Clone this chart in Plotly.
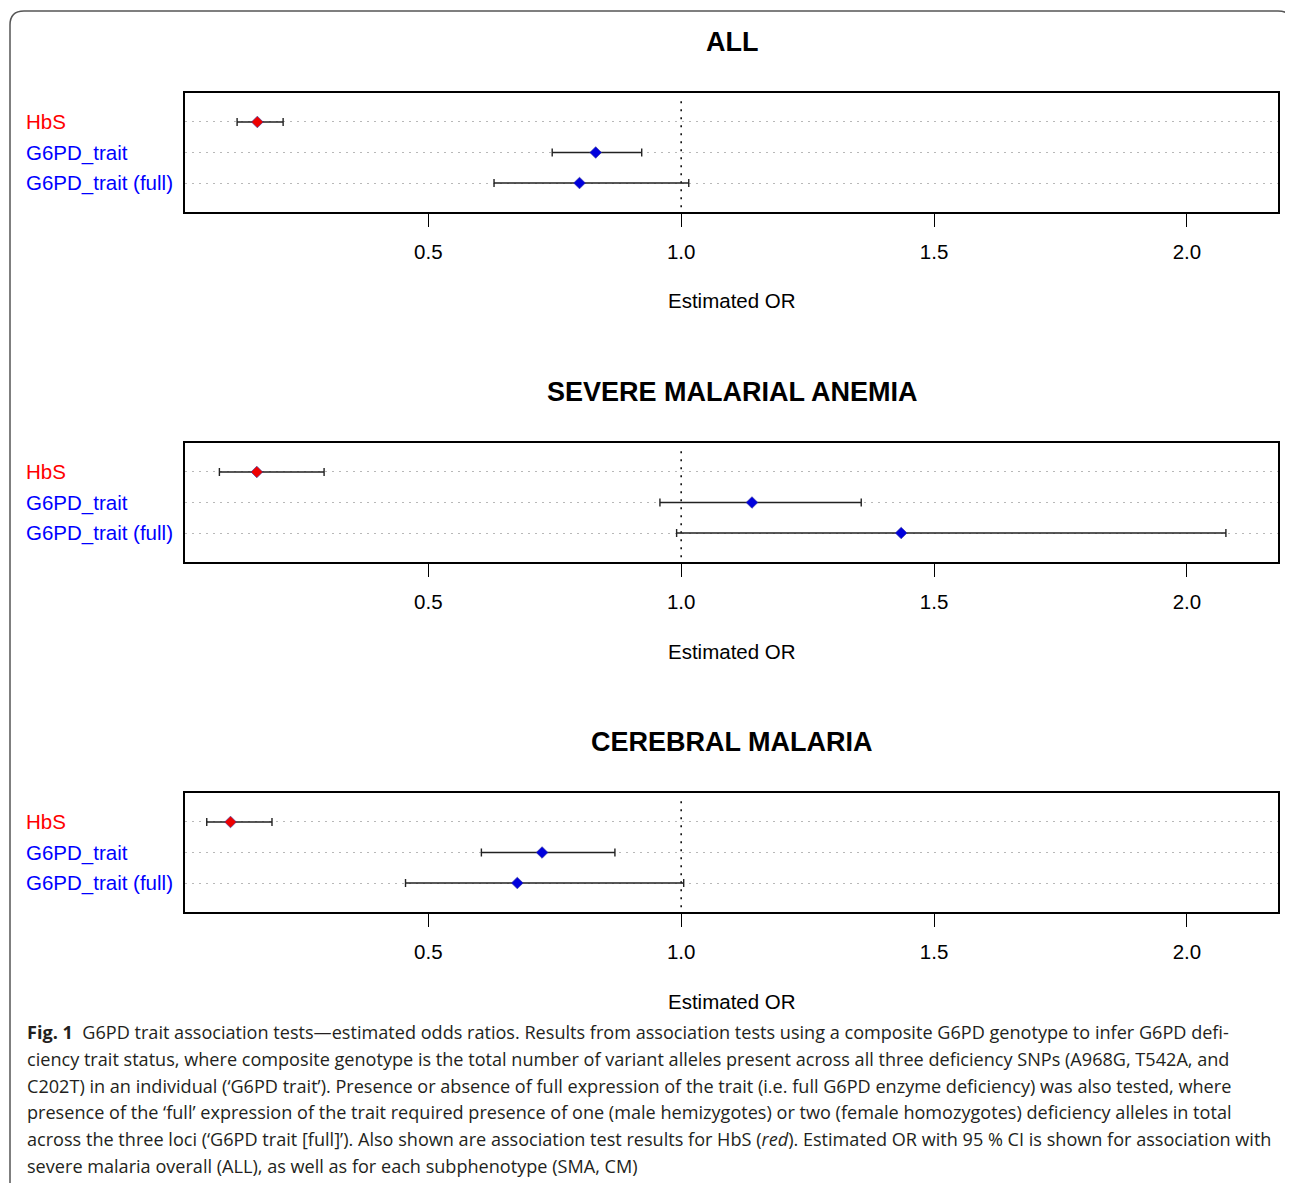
import plotly.graph_objects as go

# ---------------- data ----------------
categories = ["HbS", "G6PD_trait", "G6PD_trait (full)"]
panel_titles = ["ALL", "SEVERE MALARIAL ANEMIA", "CEREBRAL MALARIA"]

or_all = [0.162, 0.831, 0.799]
lo_all = [0.122, 0.745, 0.630]
hi_all = [0.213, 0.922, 1.015]

or_sma = [0.161, 1.140, 1.435]
lo_sma = [0.087, 0.958, 0.991]
hi_sma = [0.294, 1.356, 2.077]

or_cm = [0.109, 0.725, 0.676]
lo_cm = [0.062, 0.605, 0.455]
hi_cm = [0.191, 0.869, 1.005]

tick_vals = [0.5, 1.0, 1.5, 2.0]
tick_text = ["0.5", "1.0", "1.5", "2.0"]
label_colors = ["#ff0000", "#0000ff", "#0000ff"]
marker_colors = ["#ee0000", "#0000dd", "#0000dd"]

caption_lines = [
    "<b>Fig. 1</b>  G6PD trait association tests—estimated odds ratios. Results from association tests using a composite G6PD genotype to infer G6PD defi-",
    "ciency trait status, where composite genotype is the total number of variant alleles present across all three deficiency SNPs (A968G, T542A, and",
    "C202T) in an individual (‘G6PD trait’). Presence or absence of full expression of the trait (i.e. full G6PD enzyme deficiency) was also tested, where",
    "presence of the ‘full’ expression of the trait required presence of one (male hemizygotes) or two (female homozygotes) deficiency alleles in total",
    "across the three loci (‘G6PD trait [full]’). Also shown are association test results for HbS (<i>red</i>). Estimated OR with 95 % CI is shown for association with",
    "severe malaria overall (ALL), as well as for each subphenotype (SMA, CM)",
]

# ---------------- layout helpers ----------------
# the page body has an 8px margin, so the figure is placed 8px in from the window corner
OFF = 8
W, H = 1293 - OFF, 1183 - OFF


def px(x):
    return (x - OFF) / W


def py(y):
    return 1 - (y - OFF) / H


FONT = "Liberation Sans, Arial, Helvetica, sans-serif"
rows = [3, 2, 1]
panels = [(or_all, lo_all, hi_all), (or_sma, lo_sma, hi_sma), (or_cm, lo_cm, hi_cm)]

fig = go.Figure()
annotations = []
shapes = []

for i, (est, lo, hi) in enumerate(panels):
    off = 350 * i
    top, bot = 93 + off, 212 + off
    xa = "x" if i == 0 else f"x{i + 1}"
    ya = "y" if i == 0 else f"y{i + 1}"
    xkey = "xaxis" if i == 0 else f"xaxis{i + 1}"
    ykey = "yaxis" if i == 0 else f"yaxis{i + 1}"

    fig.add_trace(go.Scatter(
        x=est, y=rows, mode="markers", xaxis=xa, yaxis=ya,
        marker=dict(symbol="diamond", size=9, color=marker_colors,
                    line=dict(width=0.6, color="#333399")),
        error_x=dict(type="data", symmetric=False,
                     array=[h - e for h, e in zip(hi, est)],
                     arrayminus=[e - l for e, l in zip(est, lo)],
                     color="#222222", thickness=1.4, width=4),
        showlegend=False, hoverinfo="skip",
    ))

    fig.update_layout(**{
        xkey: dict(domain=[px(185), px(1278)], range=[0.019, 2.18],
                   anchor=ya, tickvals=tick_vals, ticktext=tick_text,
                   ticks="outside", ticklen=13, tickwidth=1.4, tickcolor="black",
                   ticklabelstandoff=8,
                   tickfont=dict(family=FONT, size=20.5, color="black"),
                   showline=True, mirror=True, linecolor="black", linewidth=1.5,
                   showgrid=False, zeroline=False, fixedrange=True),
        ykey: dict(domain=[py(bot), py(top)], range=[0.05, 3.95],
                   anchor=xa, tickvals=rows, showticklabels=False, ticks="",
                   showgrid=True, gridcolor="#b8b8b8", griddash="2px,5px", gridwidth=1,
                   showline=True, mirror=True, linecolor="black", linewidth=1.5,
                   zeroline=False, fixedrange=True),
    })

    # reference line at OR = 1
    shapes.append(dict(type="line", xref=xa, yref=f"{ya} domain",
                       x0=1.0, x1=1.0, y0=0.04, y1=0.96,
                       line=dict(color="black", width=1.5, dash="2px,6px"), layer="below"))

    # panel title
    annotations.append(dict(text=f"<b>{panel_titles[i]}</b>", xref="paper", yref="paper",
                            x=px(732), y=py(42 + off), xanchor="center", yanchor="middle",
                            showarrow=False, font=dict(family=FONT, size=27, color="black")))
    # axis title
    annotations.append(dict(text="Estimated OR", xref="paper", yref="paper",
                            x=px(732), y=py(301 + off), xanchor="center", yanchor="middle",
                            showarrow=False, font=dict(family=FONT, size=20.5, color="black")))
    # row labels
    for cat, r, col in zip(categories, rows, label_colors):
        annotations.append(dict(text=cat, xref="paper", yref=ya, x=px(24), y=r,
                                xanchor="left", yanchor="middle", showarrow=False,
                                font=dict(family=FONT, size=20.5, color=col)))

# caption
for k, line in enumerate(caption_lines):
    annotations.append(dict(text=line, xref="paper", yref="paper",
                            x=px(25), y=py(1032 + 26.8 * k), xanchor="left", yanchor="middle",
                            showarrow=False, align="left",
                            font=dict(family="Open Sans, Noto Sans, sans-serif", size=18.1,
                                      color="#231f20")))

# rounded outer frame
r = 14
path = (f"M {px(10)},{py(1200)} L {px(10)},{py(11 + r)} "
        f"Q {px(10)},{py(11)} {px(10 + r)},{py(11)} "
        f"L {px(1292 - r)},{py(11)} Q {px(1292)},{py(11)} {px(1292)},{py(11 + r)} "
        f"L {px(1292)},{py(1200)}")
shapes.append(dict(type="path", xref="paper", yref="paper", path=path,
                   line=dict(color="#555555", width=1.5)))

fig.update_layout(width=W, height=H, margin=dict(l=0, r=0, t=0, b=0),
                  paper_bgcolor="white", plot_bgcolor="white",
                  annotations=annotations, shapes=shapes)

fig.write_html("out.html")
